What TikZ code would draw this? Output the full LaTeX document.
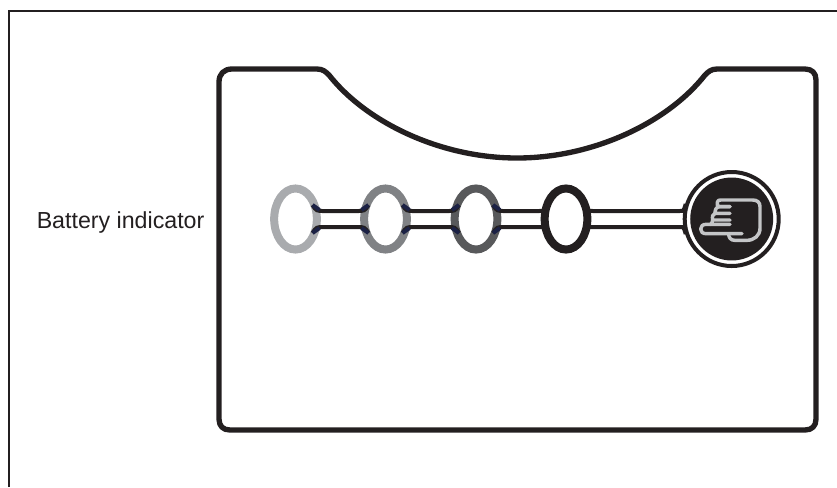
\documentclass[tikz,border=0pt]{standalone}
\usepackage{fontspec}
\setmainfont{Liberation Sans}
\usetikzlibrary{shapes.geometric}
\definecolor{ink}{HTML}{231F20}
\definecolor{navy}{HTML}{1B2145}
\definecolor{ringa}{HTML}{A9ABAE}
\definecolor{ringb}{HTML}{808285}
\definecolor{ringc}{HTML}{58595B}
\definecolor{handc}{HTML}{C4C5C7}
\tikzset{
  frameline/.style={draw=ink,line width=2.1pt},
  cardline/.style={draw=ink,line width=4pt,line join=round},
  oval/.style={ellipse,draw=#1,fill=white,line width=6pt,minimum width=32pt,minimum height=45.8pt,inner sep=0pt},
  bar/.style={draw=ink,line width=3pt},
  tip/.style={draw=navy,line width=3pt},
  label/.style={font=\fontsize{17.4pt}{20pt}\selectfont,text=ink,anchor=base west,inner sep=0pt},
  handline/.style={draw=handc,line width=2.6pt,line join=round,line cap=round}
}
\newcommand{\bridgeLine}[3]{%
  \draw[bar] ([shift={(17,#3*14)}]#1.center) .. controls ([shift={(21,#3*8)}]#1.center) .. ([shift={(29,#3*8)}]#1.center)
    -- ([shift={(-29,#3*8)}]#2.center) .. controls ([shift={(-21,#3*8)}]#2.center) .. ([shift={(-17,#3*14)}]#2.center);
}
\newcommand{\tipLine}[3]{%
  \draw[tip] ([shift={(#2*17,#3*14)}]#1.center) -- ([shift={(#2*24,#3*9)}]#1.center);
}
\begin{document}
\begin{tikzpicture}[x=0.75pt,y=-0.75pt]
\useasboundingbox (0,0) rectangle (837,487);
\coordinate (frameA) at (9,487);
\coordinate (frameB) at (9,11);
\coordinate (frameC) at (837,11);
\draw[frameline] (frameA) -- (frameB) -- (frameC);
% card
\draw[cardline] (232,69) -- (317,69) .. controls (323,69) and (326,72) .. (329,75)
  .. controls (366,122) and (440,158) .. (517,158)
  .. controls (594,158) and (668,122) .. (705,75)
  .. controls (708,72) and (711,69) .. (717,69)
  -- (805,69) .. controls (812,69) and (816,73) .. (816,80)
  -- (816,419) .. controls (816,426) and (812,430) .. (805,430)
  -- (230,430) .. controls (223,430) and (219,426) .. (219,419)
  -- (219,82) .. controls (219,74) and (224,69) .. (232,69) -- cycle;
% indicators
\node[oval=ringa] (o1) at (295.5,219) {};
\node[oval=ringb] (o2) at (385.5,219) {};
\node[oval=ringc] (o3) at (476,219) {};
\node[oval=ink]   (o4) at (566,219) {};
\node[circle,draw=ink,fill=white,line width=3pt,minimum size=70.5pt,inner sep=0pt] (btn) at (731.7,219) {};
\node[circle,fill=ink,minimum size=62.2pt,inner sep=0pt] (disk) at (btn.center) {};
% connectors
\foreach \s in {-1,1}{
  \bridgeLine{o1}{o2}{\s}
  \bridgeLine{o2}{o3}{\s}
  \bridgeLine{o3}{o4}{\s}
  \tipLine{o1}{1}{\s}
  \tipLine{o2}{-1}{\s}
  \tipLine{o2}{1}{\s}
  \tipLine{o3}{-1}{\s}
  \tipLine{o3}{1}{\s}
  \draw[bar] ([shift={(17,\s*14)}]o4.center) .. controls ([shift={(21,\s*8)}]o4.center) .. ([shift={(29,\s*8)}]o4.center)
    -- ([shift={(-52,\s*8)}]btn.center) .. controls ([shift={(-48,\s*8)}]btn.center) .. ([shift={(-46,\s*15)}]btn.center);
}
% hand icon
\begin{scope}[shift={(680,165)},x=0.25pt,y=-0.25pt]
\draw[handline] (150,125) -- (118,125) .. controls (112,125) and (110,118) .. (112,112)
  .. controls (113,106) and (116,105) .. (122,105) -- (218,105)
  .. controls (232,105) and (240,112) .. (240,125) -- (240,190)
  .. controls (240,212) and (222,226) .. (200,226) -- (165,226)
  .. controls (152,226) and (146,218) .. (146,207);
\draw[handline] (150,125) -- (118,125) .. controls (108,126) and (105,135) .. (105,145)
  -- (150,145);
\draw[handline] (105,145) .. controls (98,147) and (96,155) .. (98,165) -- (150,165);
\draw[handline] (98,165) .. controls (96,172) and (96,176) .. (92,178) -- (150,178);
\draw[handline] (92,178) -- (78,178) .. controls (68,178) and (62,184) .. (62,192)
  .. controls (62,200) and (68,206) .. (78,206) -- (186,206);
\end{scope}
% label
\node[label] (lab) at (36.5,228.5) {Battery indicator};
\end{tikzpicture}
\end{document}
